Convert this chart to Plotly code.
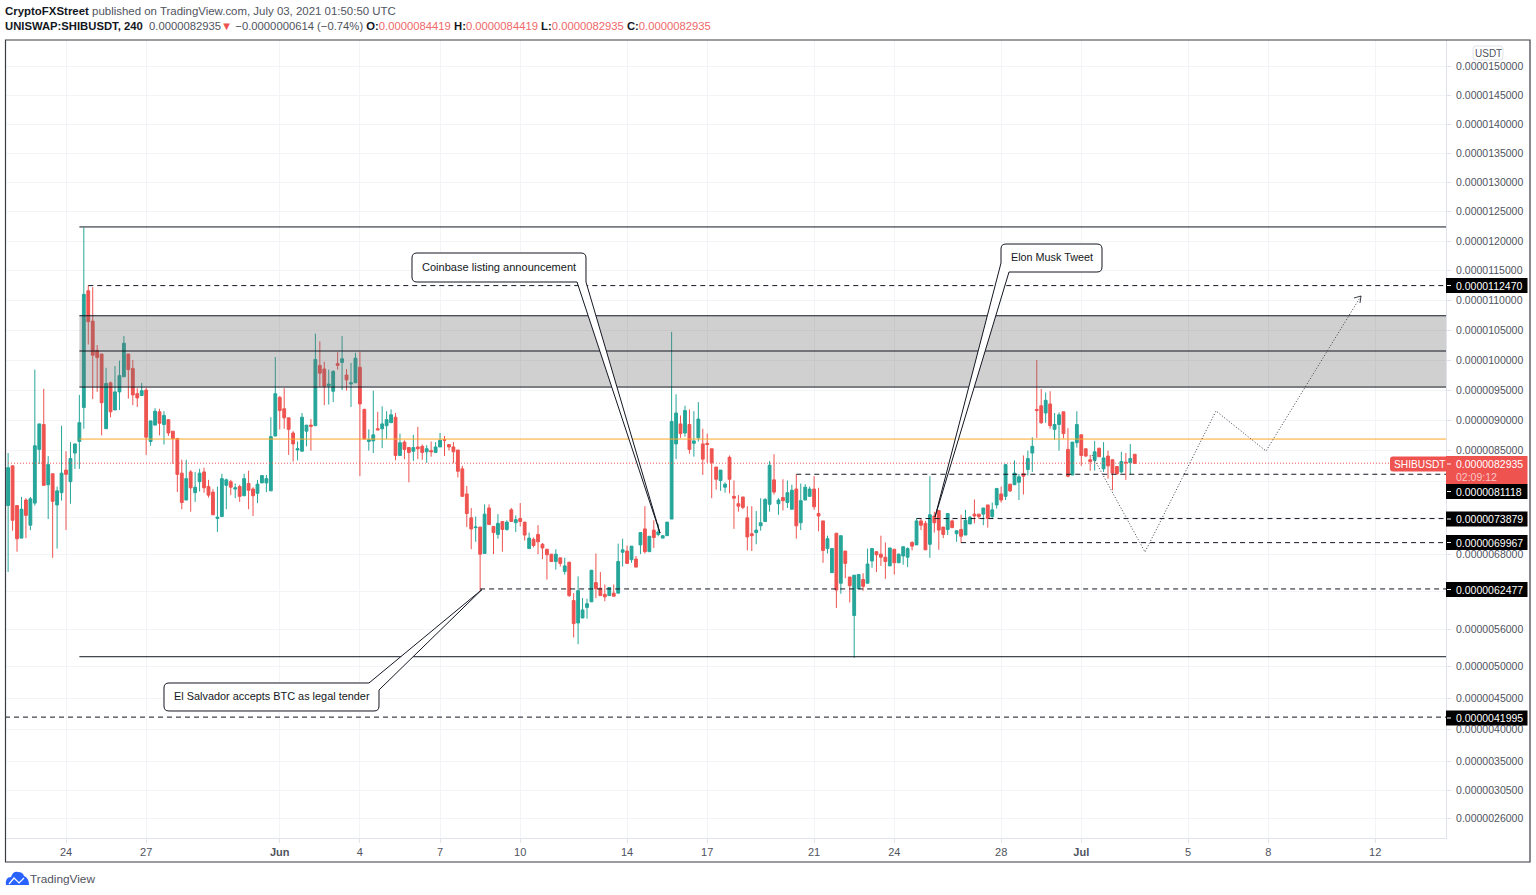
import numpy as np
import pandas as pd
import plotly.graph_objects as go

# Prices are in units of 0.0000001 USDT
opens = [76.0,82.5,76.0,70.7,76.9,72.8,76.4,85.2,89.3,79.4,
81.2,76.1,78.1,81.8,79.9,84.6,86.5,92.1,111.6,106.5,
101.6,101.0,88.6,96.2,91.7,94.7,97.2,101.0,98.6,94.4,
94.1,95.0,86.5,89.2,91.4,89.3,90.1,88.2,87.0,81.3,
76.9,81.5,78.1,79.9,81.5,79.1,78.2,73.9,74.2,79.3,
79.9,78.7,79.1,77.6,79.6,78.7,78.0,79.7,79.7,78.4,
87.4,93.8,91.9,90.4,87.9,85.1,84.9,88.2,89.2,89.1,
99.1,98.5,95.7,94.8,99.4,99.6,97.5,96.0,96.2,98.8,
91.8,86.5,86.6,88.6,88.6,89.1,89.6,90.5,84.2,86.4,
85.5,84.9,85.6,85.7,84.8,85.0,84.7,85.6,86.8,86.0,
85.6,85.1,82.0,77.9,74.0,72.4,72.5,68.2,75.6,72.6,
71.3,73.4,72.1,75.3,73.2,73.9,73.3,69.0,70.5,71.3,
69.7,68.9,68.1,66.9,67.5,65.3,66.8,60.6,57.0,57.8,
59.5,60.4,63.5,62.6,61.6,61.4,61.8,61.8,68.4,68.6,
67.2,67.3,69.6,72.2,68.5,72.0,71.3,70.7,71.1,73.8,
86.1,89.4,87.9,89.3,86.2,87.1,86.1,86.2,85.3,82.3,
80.1,79.0,83.9,77.5,76.3,77.4,74.0,71.4,71.6,72.7,
73.4,76.2,80.2,76.3,77.3,76.5,75.4,78.7,73.2,76.9,
77.5,78.7,74.7,73.5,69.0,65.1,71.5,63.4,68.6,64.4,
58.2,62.5,64.0,63.4,67.0,68.5,68.1,67.6,66.2,68.9,
66.7,67.8,67.6,70.0,69.6,73.5,73.1,69.7,74.3,75.2,
72.5,72.1,73.5,71.4,72.1,71.2,73.0,74.6,74.6,74.6,
76.1,74.2,76.1,77.9,77.5,79.5,79.4,79.8,81.2,81.9,
84.6,91.8,92.4,91.2,92.7,88.5,89.3,91.4,85.2,81.0,
86.3,87.6,85.3,83.5,83.4,85.4,82.0,84.1,83.5,82.4,
81.5,83.1,83.0,84.4]

highs = [84.6,82.5,76.0,77.4,77.2,77.4,98.4,89.4,95.2,84.1,
81.2,79.1,89.1,84.9,86.4,86.1,94.2,122.3,112.5,112.2,
102.5,101.0,98.7,96.4,99.0,99.9,104.0,101.0,100.0,95.3,
96.2,95.4,89.9,92.0,91.9,91.5,90.1,88.2,87.0,83.5,
83.5,81.8,81.5,82.0,82.2,80.2,78.7,79.1,81.2,80.4,
80.2,79.6,79.4,81.2,81.7,79.0,80.2,80.9,81.0,90.5,
100.5,94.0,95.3,90.4,88.2,86.5,91.2,89.2,90.2,104.4,
103.1,99.7,98.4,98.3,101.3,104.0,98.5,99.5,101.2,101.4,
91.9,88.5,94.9,91.4,92.3,91.5,91.8,91.2,87.8,86.7,
85.5,87.6,88.9,86.0,85.9,86.5,86.4,87.9,87.4,86.0,
86.4,85.1,82.5,79.2,75.6,74.2,72.5,76.2,76.2,72.6,
74.6,73.4,73.6,75.6,74.4,76.4,73.3,71.6,70.8,72.8,
69.9,68.9,68.1,68.9,67.5,67.5,66.8,61.8,64.5,61.0,
60.9,65.5,68.2,65.2,63.2,62.7,63.2,69.8,70.6,69.5,
69.4,67.8,71.6,75.9,71.0,73.6,73.0,71.1,73.3,104.7,
94.3,90.8,92.4,91.8,91.5,93.0,88.6,87.8,85.3,82.3,
81.8,79.8,84.2,80.1,77.7,77.4,75.9,75.9,75.1,77.2,
77.2,83.3,84.4,77.2,80.3,80.1,79.4,81.1,79.6,79.5,
79.1,80.8,78.9,73.5,71.1,69.0,71.5,71.1,68.6,64.4,
64.7,64.8,65.0,69.0,69.0,68.5,71.1,70.0,69.1,68.9,
68.2,69.3,69.2,70.2,73.9,73.9,73.5,80.8,75.0,75.2,
72.5,74.7,73.7,72.0,74.5,75.3,74.3,77.0,74.6,75.6,
76.1,76.5,78.8,79.1,82.7,79.5,83.4,81.2,84.2,85.0,
87.2,100.0,95.2,94.6,94.8,91.2,91.3,91.4,88.7,86.4,
91.5,87.6,85.3,84.3,86.6,85.4,86.4,85.0,83.5,82.4,
84.8,84.6,86.1,84.4]

lows = [65.2,71.9,68.5,70.7,70.7,72.0,76.0,82.8,79.3,73.8,
67.5,69.0,76.8,72.0,76.3,82.0,82.0,88.6,102.6,93.5,
94.7,87.5,88.6,90.5,91.7,91.7,97.2,93.6,92.5,92.2,
94.1,84.3,85.8,89.2,87.5,86.0,87.4,82.8,78.2,75.4,
76.9,75.0,76.6,78.3,78.1,77.3,74.5,71.7,74.2,75.4,
77.7,77.2,76.6,77.6,75.4,74.3,76.4,79.7,78.2,78.4,
87.4,88.5,88.6,84.3,83.2,83.4,84.9,85.7,85.0,89.1,
95.6,92.5,92.6,93.0,98.4,95.0,94.9,92.2,96.2,80.8,
86.9,85.0,84.6,88.4,85.4,86.9,89.6,83.4,84.2,83.6,
79.8,83.3,83.6,83.5,83.0,84.0,84.7,85.6,84.1,85.0,
82.9,80.6,77.5,72.5,68.9,70.1,62.2,68.2,72.9,68.1,
70.6,68.5,71.9,73.4,71.7,72.6,70.3,69.0,69.2,68.1,
67.3,64.0,66.9,65.6,66.1,64.8,61.2,54.7,53.6,57.8,
57.7,60.4,61.0,61.4,60.5,61.4,61.3,61.8,66.1,66.6,
66.7,66.0,68.1,68.2,68.5,69.1,71.0,70.7,71.1,73.8,
83.6,87.1,87.3,84.5,84.0,86.5,81.0,83.0,77.2,78.6,
78.4,78.1,78.0,72.2,75.0,75.4,68.7,68.6,69.7,71.9,
73.4,75.0,77.8,74.5,75.2,75.6,75.4,70.6,72.0,76.9,
77.5,75.3,71.8,66.7,68.2,65.1,59.4,61.7,64.2,60.3,
51.4,62.5,62.2,63.4,65.9,65.2,66.2,64.1,66.2,64.8,
66.7,66.4,66.0,68.7,69.6,72.0,68.8,67.5,71.6,68.8,
70.7,71.2,72.4,70.1,69.9,71.2,73.0,73.1,73.8,72.8,
72.4,73.8,75.5,76.5,76.9,78.2,79.4,76.9,77.8,80.9,
81.5,87.1,89.4,89.6,88.6,86.8,85.0,87.0,80.6,81.0,
85.5,82.5,84.0,81.7,81.7,84.0,81.5,80.4,78.5,81.0,
81.3,80.2,81.0,82.9]

closes = [82.2,73.6,70.6,75.4,74.4,77.1,85.8,89.4,79.3,82.7,
76.7,78.4,81.3,81.1,83.7,86.1,89.6,111.0,106.4,100.8,
100.4,92.9,96.1,91.4,94.7,97.4,102.8,98.4,94.2,93.7,
94.9,87.2,89.9,91.5,89.5,90.8,87.9,87.0,81.1,76.5,
80.4,78.9,79.0,81.3,78.9,77.7,74.5,74.1,80.4,80.2,
79.0,78.9,77.5,80.4,78.5,77.6,79.5,80.9,80.4,87.3,
94.4,91.6,90.4,88.5,86.1,85.3,90.5,89.2,89.0,100.1,
97.8,95.6,96.0,98.1,99.1,100.2,96.7,96.2,100.3,92.7,
86.9,86.8,87.6,88.4,89.4,90.1,90.9,84.2,86.3,85.2,
84.7,85.5,85.3,84.7,85.3,84.8,85.6,86.7,86.7,85.6,
84.8,81.6,77.5,74.7,72.2,72.5,68.1,74.6,72.9,71.6,
73.1,72.1,73.3,73.4,73.7,73.4,71.2,70.7,69.5,70.1,
69.1,68.0,66.9,68.1,66.6,66.2,61.4,56.9,62.2,59.1,
60.1,65.5,62.5,61.4,61.2,62.7,61.3,66.9,68.8,66.6,
69.4,66.0,71.6,68.5,71.0,70.8,71.7,71.1,73.3,89.8,
91.2,87.8,91.6,85.2,86.6,90.2,83.6,86.0,83.0,80.3,
81.8,79.5,80.3,77.2,75.9,75.7,70.9,71.1,72.0,73.2,
77.0,82.6,78.2,76.9,76.8,78.1,78.5,72.7,76.8,79.0,
78.7,75.8,74.3,68.7,70.6,69.0,62.3,71.1,66.6,63.0,
64.7,64.8,62.9,66.5,69.0,68.0,67.6,66.9,69.1,66.7,
68.1,69.3,69.0,69.4,73.5,72.8,68.8,74.5,73.2,72.0,
71.3,74.7,72.4,71.9,71.0,73.6,74.1,74.3,74.2,75.6,
73.9,75.3,78.8,76.9,82.7,78.4,81.3,80.7,80.8,83.7,
85.7,91.6,89.6,93.3,89.1,89.3,90.9,87.8,80.8,86.4,
89.3,84.2,84.1,83.2,84.8,84.0,83.8,82.5,81.3,81.2,
83.2,83.0,83.7,82.9]

times = pd.date_range("2021-05-21 20:00", periods=len(opens), freq="4h")

price_ticks = [150,145,140,135,130,125,120,115,110,105,100,95,90,85,80,74,68,62,56,50,45,40,35,30.5,26]
hidden_ticks = {80, 74, 62}
date_ticks = ["2021-05-24","2021-05-27","2021-06-01","2021-06-04","2021-06-07","2021-06-10","2021-06-14",
              "2021-06-17","2021-06-21","2021-06-24","2021-06-28","2021-07-01","2021-07-05","2021-07-08","2021-07-12"]
date_labels = ["24","27","<b>Jun</b>","4","7","10","14","17","21","24","28","<b>Jul</b>","5","8","12"]

LEVEL_TOP = 122.4
LEVEL_BOTTOM = 51.6
ZONE = [95.5, 101.5, 107.4]
ORANGE = 86.9
LAST = 82.935

PLOT_L, PLOT_R, PLOT_T, PLOT_B = 5, 1446, 40, 838

def scale(p):
    """The chart's price scale is slightly curved; this maps a price on to it."""
    d = np.asarray(p, dtype=float) - 100.0
    return 6.0 * d - 0.0027 * d * d

def fx(px):
    return (px - PLOT_L) / (PLOT_R - PLOT_L)

def fy(py):
    return (PLOT_B - py) / (PLOT_B - PLOT_T)

def P(points):
    out = []
    for i, (x, y) in enumerate(points):
        out.append(("M" if i == 0 else "L") + f"{fx(x):.5f},{fy(y):.5f}")
    return " ".join(out)

def Q(cx, cy, x, y):
    return f"Q{fx(cx):.5f},{fy(cy):.5f} {fx(x):.5f},{fy(y):.5f}"

def L(x, y):
    return f"L{fx(x):.5f},{fy(y):.5f}"

fig = go.Figure()
fig.add_trace(go.Candlestick(
    x=times, open=scale(opens), high=scale(highs), low=scale(lows), close=scale(closes),
    increasing=dict(line=dict(color="#26a69a", width=1), fillcolor="#26a69a"),
    decreasing=dict(line=dict(color="#ef5350", width=1), fillcolor="#ef5350"),
    whiskerwidth=0, showlegend=False, hoverinfo="skip",
))

shapes, annots = [], []
BLACK = "#131722"

def hline(price, x0, color=BLACK, dash="solid", width=1, x1="2021-07-14 15:36"):
    shapes.append(dict(type="line", xref="x", yref="y", x0=x0, x1=x1, y0=float(scale(price)), y1=float(scale(price)),
                       line=dict(color=color, width=width, dash=dash), layer="above"))

zone_start = "2021-05-24 12:00"
shapes.append(dict(type="rect", xref="x", yref="y", x0=zone_start, x1="2021-07-14 15:36",
                   y0=float(scale(ZONE[0])), y1=float(scale(ZONE[2])),
                   fillcolor="rgba(110,110,110,0.32)", line=dict(width=0), layer="above"))
for z in ZONE:
    hline(z, zone_start)
hline(LEVEL_TOP, zone_start)
hline(LEVEL_BOTTOM, zone_start)
hline(ORANGE, zone_start, color="#ffa726")
hline(LAST, "2021-05-21 17:12", color="#ef5350", dash="1px,2px")
DASH = "5px,4px"
hline(112.47, "2021-05-24 20:00", dash=DASH)
hline(81.118, "2021-06-20 08:00", dash=DASH)
hline(73.879, "2021-06-24 20:00", dash=DASH)
hline(69.967, "2021-06-26 12:00", dash=DASH)
hline(62.477, "2021-06-08 12:00", dash=DASH)
hline(41.995, "2021-05-21 17:12", dash=DASH)

# projected path
shapes.append(dict(type="path", xref="paper", yref="paper",
                   path=P([(1092, 455), (1145, 552), (1216, 411), (1266, 451), (1361, 296)]),
                   line=dict(color="#3a3d45", width=1, dash="1px,2px")))
shapes.append(dict(type="path", xref="paper", yref="paper",
                   path=P([(1354, 298), (1361, 296), (1360, 303)]),
                   line=dict(color="#3a3d45", width=1)))

def bubble(path):
    shapes.append(dict(type="path", xref="paper", yref="paper", path=path,
                       fillcolor="white", line=dict(color=BLACK, width=1), layer="above"))

r = 5
# Coinbase
x0, y0, x1, y1 = 412, 253, 586, 282
bubble(f"M{fx(x0+r):.5f},{fy(y0):.5f} " + L(x1-r, y0) + " " + Q(x1, y0, x1, y0+r) + " " + L(x1, y1) + " " + L(660, 533)
       + " " + L(577, y1) + " " + L(x0+r, y1) + " " + Q(x0, y1, x0, y1-r) + " " + L(x0, y0+r) + " " + Q(x0, y0, x0+r, y0) + " Z")
# Elon
x0, y0, x1, y1 = 1001, 244, 1102, 272
bubble(f"M{fx(x0+r):.5f},{fy(y0):.5f} " + L(x1-r, y0) + " " + Q(x1, y0, x1, y0+r) + " " + L(x1, y1-r) + " " + Q(x1, y1, x1-r, y1)
       + " " + L(1009, y1) + " " + L(935, 517) + " " + L(x0, 263) + " " + L(x0, y0+r) + " " + Q(x0, y0, x0+r, y0) + " Z")
# El Salvador
x0, y0, x1, y1 = 164, 683, 379, 711
bubble(f"M{fx(x0+r):.5f},{fy(y0):.5f} " + L(369, y0) + " " + L(482, 589.5) + " " + L(x1, 690) + " " + L(x1, y1-r) + " " + Q(x1, y1, x1-r, y1)
       + " " + L(x0+r, y1) + " " + Q(x0, y1, x0, y1-r) + " " + L(x0, y0+r) + " " + Q(x0, y0, x0+r, y0) + " Z")

FONT = "Liberation Sans"

def text(px, py, s, size=10.5, color=BLACK, anchor="left"):
    annots.append(dict(xref="paper", yref="paper", x=fx(px), y=fy(py), text=s, showarrow=False,
                       xanchor=anchor, yanchor="middle", font=dict(family=FONT, size=size, color=color),
                       borderpad=0, borderwidth=0))

text(422, 266.8, "Coinbase listing announcement", size=11.05)
text(1011, 257, "Elon Musk Tweet", size=10.8)
text(174, 695.8, "El Salvador accepts BTC as legal tender", size=10.9)

# outer frame
shapes.append(dict(type="rect", xref="paper", yref="paper", x0=fx(5.5), x1=fx(1530), y0=fy(40), y1=fy(862),
                   line=dict(color="#3a3d45", width=1.2), fillcolor="rgba(0,0,0,0)", layer="above"))

def price_box(py_top, py_bot, color):
    shapes.append(dict(type="rect", xref="paper", yref="paper", x0=fx(1446), x1=fx(1527.5), y0=fy(py_top), y1=fy(py_bot),
                       fillcolor=color, line=dict(width=0), layer="above"))

levels = [(285.5, "0.0000112470"), (491.5, "0.0000081118"), (519, "0.0000073879"),
          (542.5, "0.0000069967"), (589.5, "0.0000062477"), (718, "0.0000041995")]
for yc, label in levels:
    price_box(yc - 7.5, yc + 7.5, "#000000")
    shapes.append(dict(type="line", xref="paper", yref="paper", x0=fx(1447), x1=fx(1451), y0=fy(yc), y1=fy(yc),
                       line=dict(color="white", width=1), layer="above"))
    text(1456, yc, label, color="white", size=10.5)

price_box(456, 484, "#ef5350")
shapes.append(dict(type="path", xref="paper", yref="paper",
                   path=f"M{fx(1393):.5f},{fy(456.5):.5f} " + L(1447, 456.5) + " " + L(1447, 471.5) + " " + L(1393, 471.5) + " "
                        + Q(1390, 471.5, 1390, 468.5) + " " + L(1390, 459.5) + " " + Q(1390, 456.5, 1393, 456.5) + " Z",
                   fillcolor="#ef5350", line=dict(width=0), layer="above"))
shapes.append(dict(type="line", xref="paper", yref="paper", x0=fx(1447), x1=fx(1451), y0=fy(464), y1=fy(464),
                   line=dict(color="white", width=1), layer="above"))
text(1394, 464, "SHIBUSDT", color="white", size=10.2)
text(1456, 464, "0.0000082935", color="white", size=10.5)
text(1456, 477, "02:09:12", color="#f9c4c3", size=10.5)

# USDT chip
x0, y0, x1, y1 = 1473, 46, 1503, 60
r2 = 3
shapes.append(dict(type="path", xref="paper", yref="paper",
                   path=f"M{fx(x0+r2):.5f},{fy(y0):.5f} " + L(x1-r2, y0) + " " + Q(x1, y0, x1, y0+r2) + " " + L(x1, y1-r2) + " " + Q(x1, y1, x1-r2, y1)
                        + " " + L(x0+r2, y1) + " " + Q(x0, y1, x0, y1-r2) + " " + L(x0, y0+r2) + " " + Q(x0, y0, x0+r2, y0) + " Z",
                   fillcolor="white", line=dict(color="#e0e3eb", width=1), layer="above"))
text(1488, 53.5, "USDT", color="#50535e", size=10, anchor="center")

# heading
text(5, 11.5, "<b>CryptoFXStreet</b> <span style='color:#50535e'>published on TradingView.com, July 03, 2021 01:50:50 UTC</span>", size=11.45)
RED = "#f0686a"
text(5, 26.5, "<b>UNISWAP:SHIBUSDT, 240</b>  <span style='color:#50535e'>0.0000082935</span>"
     "<span style='color:#ef5350'>▼</span> <span style='color:#50535e'>−0.0000000614 (−0.74%)</span> "
     f"<b>O:</b><span style='color:{RED}'>0.0000084419</span> <b>H:</b><span style='color:{RED}'>0.0000084419</span> "
     f"<b>L:</b><span style='color:{RED}'>0.0000082935</span> <b>C:</b><span style='color:{RED}'>0.0000082935</span>", size=11.27)

# logo
shapes.append(dict(type="path", xref="paper", yref="paper",
                   path=f"M{fx(6):.5f},{fy(885):.5f} " + Q(5, 877, 11, 877) + " " + Q(13, 871, 18, 872) + " " + Q(23, 872, 24, 876) + " "
                        + Q(29, 878, 29, 885) + " Z",
                   fillcolor="#2962ff", line=dict(width=0)))
shapes.append(dict(type="path", xref="paper", yref="paper",
                   path=P([(9, 884), (14, 878), (19, 883), (24, 878)]),
                   line=dict(color="white", width=1.2)))
text(30, 878.5, "TradingView", color="#50535e", size=11.8)

fig.update_layout(
    width=1536, height=895, autosize=False,
    margin=dict(l=PLOT_L, r=1536 - PLOT_R, t=PLOT_T, b=895 - PLOT_B, pad=0),
    paper_bgcolor="white", plot_bgcolor="white",
    boxgap=0.1, showlegend=False, shapes=shapes, annotations=annots,
    font=dict(family=FONT, color="#50535e", size=10.5),
    xaxis=dict(type="date", range=["2021-05-21 17:12", "2021-07-14 15:36"], rangeslider=dict(visible=False),
               tickvals=date_ticks, ticktext=date_labels, tickangle=0,
               showgrid=True, gridcolor="#f3f4f7", gridwidth=1, zeroline=False,
               ticks="outside", ticklen=4, tickcolor="#e0e3eb", showline=True, linecolor="#e0e3eb",
               tickfont=dict(family=FONT, size=11, color="#50535e")),
    yaxis=dict(side="right", range=[float(360 - PLOT_B), float(360 - PLOT_T)],
               tickvals=[float(scale(p)) for p in price_ticks],
               ticktext=["" if p in hidden_ticks else f"{p / 1e7:.10f}" for p in price_ticks],
               showgrid=True, gridcolor="#f3f4f7", gridwidth=1, zeroline=False,
               ticks="outside", ticklen=4, tickcolor="#e0e3eb", showline=True, linecolor="#e0e3eb",
               ticklabelstandoff=3,
               tickfont=dict(family=FONT, size=10.5, color="#50535e")),
)

fig.write_html("out.html", post_script="document.body.style.margin='0';", config={"displayModeBar": False})
